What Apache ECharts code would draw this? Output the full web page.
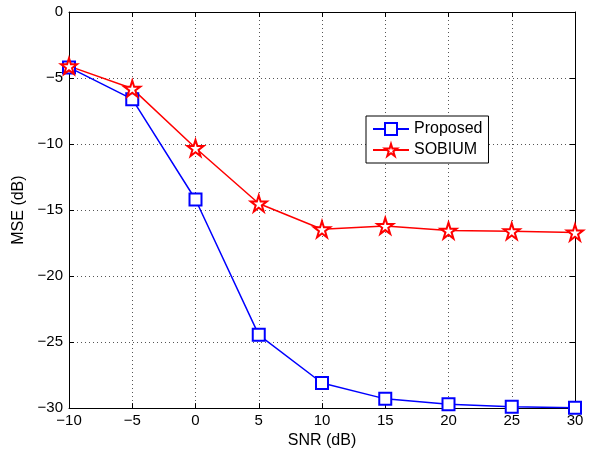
<!DOCTYPE html>
<html>
<head>
<meta charset="utf-8">
<script src="https://cdn.jsdelivr.net/npm/echarts@6/dist/echarts.min.js"></script>
<style>
html, body { margin: 0; padding: 0; background: #fff; }
#chart { width: 590px; height: 454px; }
</style>
</head>
<body>
<div id="chart"></div>
<script>
// SNR values (dB)
var snr = [-10, -5, 0, 5, 10, 15, 20, 25, 30];
// MSE (dB)
var proposed = [-4.2, -6.6, -14.2, -24.45, -28.1, -29.3, -29.7, -29.9, -29.97];
var sobium = [-4.1, -5.8, -10.3, -14.5, -16.45, -16.2, -16.55, -16.6, -16.7];

// hollow pentagram ("empty" prefix keeps it unfilled, also in the legend)
var starPath = 'emptypath://M100,0 L122.45,69.1 L195.1,69.1 L136.3,111.8 L158.8,180.9 L100,138.2 L41.2,180.9 L63.7,111.8 L4.9,69.1 L77.55,69.1 Z';

function pairs(xs, ys) {
    var out = [];
    for (var i = 0; i < xs.length; i++) {
        out.push([xs[i], ys[i]]);
    }
    return out;
}

function minusFmt(v) {
    return String(v).replace('-', '\u2212');
}

var font = 'Liberation Sans, Arial, Helvetica, sans-serif';
var gridLine = { show: true, lineStyle: { color: '#555', type: [1, 3], width: 1 } };

var myChart = echarts.init(document.getElementById('chart'));
var option = {
    animation: false,
    backgroundColor: '#fff',
    grid: { left: 69, right: 15, top: 12, bottom: 42, containLabel: false },
    legend: {
        orient: 'vertical',
        left: 366,
        top: 116,
        padding: [5, 6, 5, 6],
        itemGap: 5,
        itemWidth: 36,
        itemHeight: 15,
        backgroundColor: '#fff',
        borderColor: '#000',
        borderWidth: 1,
        textStyle: { fontFamily: font, fontSize: 16, color: '#000' },
        data: ['Proposed', 'SOBIUM']
    },
    xAxis: [{
        type: 'value', min: -10, max: 30, interval: 5,
        name: 'SNR (dB)', nameLocation: 'middle', nameGap: 22,
        nameTextStyle: { fontFamily: font, fontSize: 16, color: '#000' },
        axisLine: { onZero: false, lineStyle: { color: '#000', width: 1 } },
        axisTick: { inside: true, length: 5, lineStyle: { color: '#000' } },
        axisLabel: { fontFamily: font, fontSize: 15, color: '#000', margin: 5, formatter: minusFmt },
        splitLine: gridLine
    }, {
        type: 'value', min: -10, max: 30, interval: 5, position: 'top',
        axisLine: { onZero: false, lineStyle: { color: '#000', width: 1 } },
        axisTick: { inside: true, length: 5, lineStyle: { color: '#000' } },
        axisLabel: { show: false },
        splitLine: { show: false }
    }],
    yAxis: [{
        type: 'value', min: -30, max: 0, interval: 5,
        name: 'MSE (dB)', nameLocation: 'middle', nameGap: 40,
        nameTextStyle: { fontFamily: font, fontSize: 16, color: '#000' },
        axisLine: { onZero: false, lineStyle: { color: '#000', width: 1 } },
        axisTick: { inside: true, length: 5, lineStyle: { color: '#000' } },
        axisLabel: { fontFamily: font, fontSize: 15, color: '#000', margin: 6, formatter: minusFmt },
        splitLine: gridLine
    }, {
        type: 'value', min: -30, max: 0, interval: 5, position: 'right',
        axisLine: { onZero: false, lineStyle: { color: '#000', width: 1 } },
        axisTick: { inside: true, length: 5, lineStyle: { color: '#000' } },
        axisLabel: { show: false },
        splitLine: { show: false }
    }],
    series: [{
        name: 'Proposed',
        type: 'line',
        data: pairs(snr, proposed),
        symbol: 'emptyRect',
        symbolSize: 12,
        color: '#0000ff',
        lineStyle: { color: '#0000ff', width: 1.5 },
        itemStyle: { borderWidth: 1.5 }
    }, {
        name: 'SOBIUM',
        type: 'line',
        data: pairs(snr, sobium),
        symbol: starPath,
        symbolSize: 16,
        color: '#ff0000',
        lineStyle: { color: '#ff0000', width: 1.5 },
        itemStyle: { borderWidth: 1.5 }
    }]
};
myChart.setOption(option);
</script>
</body>
</html>
